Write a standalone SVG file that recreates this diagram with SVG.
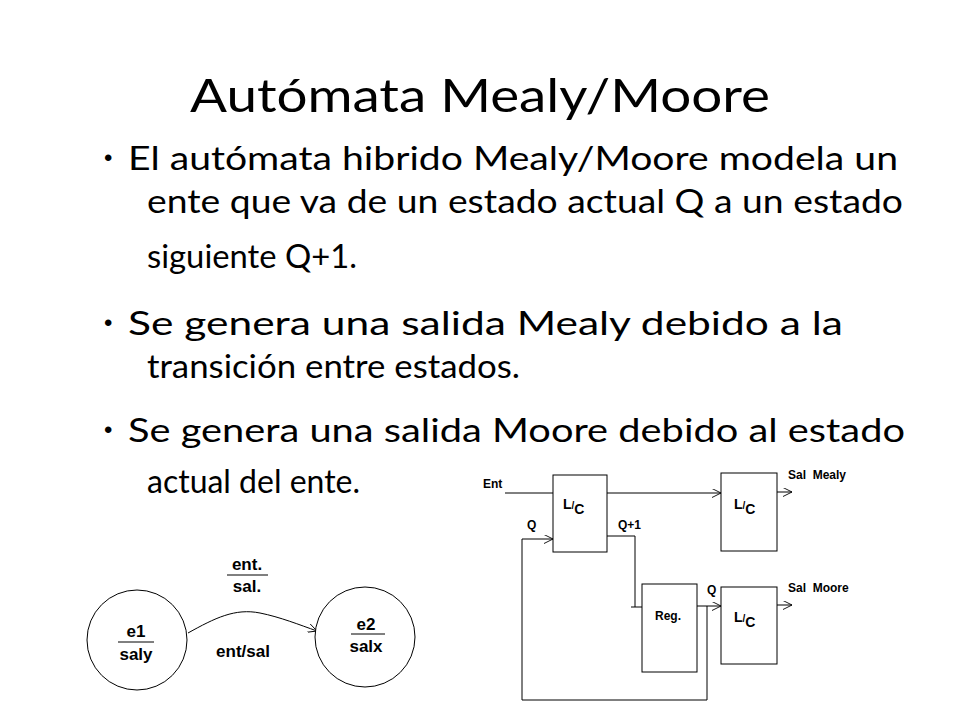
<svg xmlns="http://www.w3.org/2000/svg" width="960" height="720" viewBox="0 0 960 720">
<style>
.t{font-family:Lato,"Open Sans","Liberation Sans",sans-serif;fill:#000}
.b{font-size:32px}
.bu{font-family:"Liberation Sans",Arial,sans-serif;font-size:24px}
.d{font-family:"Liberation Sans",Arial,sans-serif;font-weight:bold;font-size:12px}
.lc{font-family:"Liberation Sans",Arial,sans-serif;font-weight:bold;font-size:14px}
.s{font-family:"Liberation Sans",Arial,sans-serif;font-weight:bold;font-size:17px;text-anchor:middle}
.ln{fill:none;stroke:#000;stroke-width:1}
.bx{fill:#fff;stroke:#000;stroke-width:1}
</style>
<defs><marker id="a" viewBox="0 0 10 10" refX="10" refY="5" markerWidth="9" markerHeight="9" orient="auto" markerUnits="userSpaceOnUse"><path d="M0,0 L10,5 L0,10" fill="none" stroke="#000"/></marker></defs>
<rect width="960" height="720" fill="#fff"/>
<text class="t" x="480" y="112" font-size="46" text-anchor="middle" textLength="580" lengthAdjust="spacingAndGlyphs">Autómata Mealy/Moore</text>
<g class="bu">
<text x="104" y="166">•</text><text x="104" y="331">•</text><text x="104" y="438">•</text>
</g>
<g class="t b">
<text x="128" y="170" textLength="770" lengthAdjust="spacingAndGlyphs">El autómata hibrido Mealy/Moore modela un</text>
<text x="147" y="213" textLength="756" lengthAdjust="spacingAndGlyphs">ente que va de un estado actual Q a un estado</text>
<text x="147" y="268" textLength="210" lengthAdjust="spacingAndGlyphs">siguiente Q+1.</text>
<text x="128" y="335" textLength="715" lengthAdjust="spacingAndGlyphs">Se genera una salida Mealy debido a la</text>
<text x="147" y="378" textLength="373" lengthAdjust="spacingAndGlyphs">transición entre estados.</text>
<text x="128" y="442" textLength="777" lengthAdjust="spacingAndGlyphs">Se genera una salida Moore debido al estado</text>
<text x="147" y="493" textLength="213" lengthAdjust="spacingAndGlyphs">actual del ente.</text>
</g>
<g id="connectors">
<path class="ln" d="M505,493 H553"/>
<path class="ln" d="M607,493 H721" marker-end="url(#a)"/>
<path class="ln" d="M777,492 H792" marker-end="url(#a)"/>
<path class="ln" d="M777,605 H792" marker-end="url(#a)"/>
<path class="ln" d="M607,536 H635 V607 H642 M631,607 H635"/>
<path class="ln" d="M697,606 H721" marker-end="url(#a)"/>
<path class="ln" d="M707,606 V700 H522 V539 H553" marker-end="url(#a)"/>
<path class="ln" d="M188,633 C215,618 235,608 260,613 C280,617 300,625 317,631" marker-end="url(#a)"/>
</g>
<g id="lc1"><rect class="bx" x="553" y="475" width="54" height="77"/><text class="lc" x="563" y="509">L<tspan font-size="10">/</tspan><tspan dy="5">C</tspan></text></g>
<g id="lc2"><rect class="bx" x="721" y="473" width="56" height="78"/><text class="lc" x="734" y="509">L<tspan font-size="10">/</tspan><tspan dy="5">C</tspan></text></g>
<g id="reg"><rect class="bx" x="642" y="584" width="55" height="88"/><text class="d" x="655" y="620">Reg.</text></g>
<g id="lc3"><rect class="bx" x="721" y="587" width="56" height="77"/><text class="lc" x="734" y="622">L<tspan font-size="10">/</tspan><tspan dy="5">C</tspan></text></g>
<g id="labels" class="d">
<text x="483" y="488">Ent</text><text x="527" y="529">Q</text><text x="618" y="529">Q+1</text><text x="707" y="594">Q</text>
<text x="788" y="479" xml:space="preserve">Sal  Mealy</text><text x="788" y="592" xml:space="preserve">Sal  Moore</text>
</g>
<g id="e1"><circle class="bx" cx="137" cy="640" r="50"/><text class="s" x="136" y="637">e1</text><path class="ln" d="M118,642 H154"/><text class="s" x="136" y="660">saly</text></g>
<g id="e2"><circle class="bx" cx="365" cy="637" r="50"/><text class="s" x="366" y="630">e2</text><path class="ln" d="M351,634 H385"/><text class="s" x="366" y="652">salx</text></g>
<g id="tl"><text class="s" x="247" y="570">ent.</text><path class="ln" d="M227,575 H268"/><text class="s" x="247" y="592">sal.</text><text class="s" x="243" y="657">ent/sal</text></g>
</svg>
